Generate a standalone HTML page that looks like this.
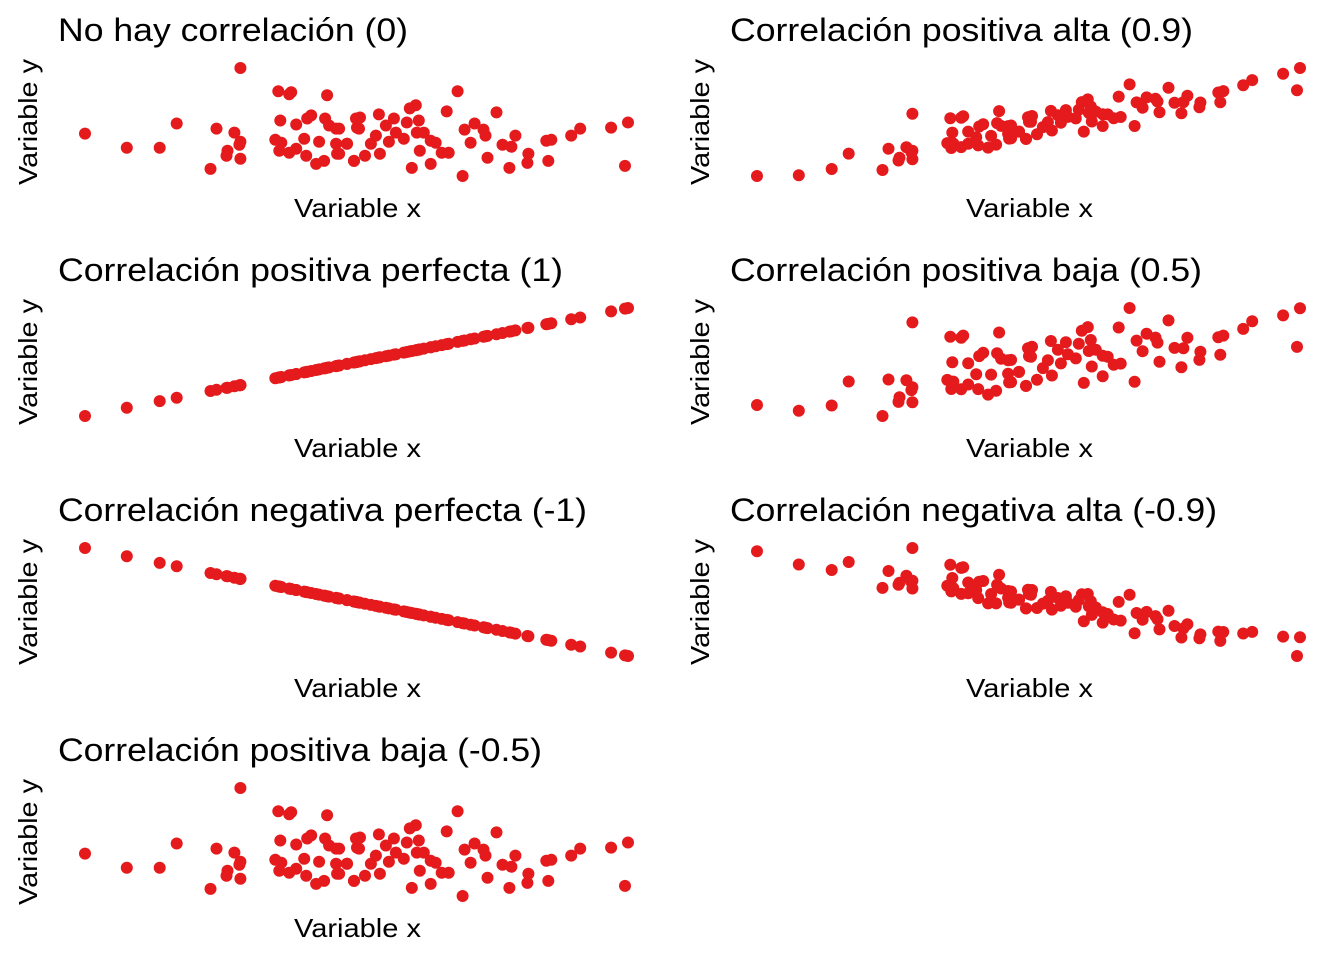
<!DOCTYPE html>
<html><head><meta charset="utf-8">
<style>
html,body{margin:0;padding:0;background:#fff;}
svg{display:block;font-family:"Liberation Sans",Arial,sans-serif;}
</style></head>
<body>
<svg id="chart" width="1344" height="960" viewBox="0 0 1344 960" xmlns="http://www.w3.org/2000/svg"></svg>
<script>
// shared x values (read from pixel positions)
const xValues = [85,127,160,177,211,217,235,241,228,240,227,241,241,279,290,292,328,281,297,308,312,326,330,337,276,282,280,290,305,297,307,320,317,325,337,348,338,355,357,358,340,348,340,355,358,361,360,366,372,377,380,381,387,390,395,397,405,408,411,417,420,418,425,432,437,421,413,432,443,450,448,459,466,476,472,485,487,464,489,498,504,513,517,511,530,529,548,553,550,573,582,613,630,627];
// noise variable (the "no correlation" series, higher = up)
const zValues = [-133,-147,-147,-123,-168,-128,-132,-141,-150,-144,-155,-158,-68,-91,-94,-92,-95,-120,-124,-118,-115,-118,-125,-128,-139,-142,-150,-152,-138,-148,-155,-141,-163,-160,-143,-143,-153,-160,-118,-127,-128,-143,-153,-160,-118,-117,-128,-155,-143,-135,-114,-153,-125,-141,-118,-132,-138,-122,-108,-105,-120,-132,-132,-140,-142,-150,-167,-163,-152,-152,-111,-91,-129,-123,-142,-129,-135,-175,-157,-112,-144,-146,-135,-167,-153,-162,-140,-139,-160,-135,-128,-127,-122,-165];
const panelTitles = ["No hay correlación (0)","Correlación positiva alta (0.9)","Correlación positiva perfecta (1)","Correlación positiva baja (0.5)","Correlación negativa perfecta (-1)","Correlación negativa alta (-0.9)","Correlación positiva baja (-0.5)"];
const panelR = [0,0.9,1,0.5,-1,-0.9,0];
const panelNoise = [1,0.436,0,0.5,0,0.436,1];
const titleWidths = [350,463,505,472,529,487,484];

const NS="http://www.w3.org/2000/svg";
const svg=document.getElementById('chart');
function std(a){const m=a.reduce((s,v)=>s+v,0)/a.length;const sd=Math.sqrt(a.reduce((s,v)=>s+(v-m)*(v-m),0)/a.length)||1;return a.map(v=>(v-m)/sd);}
const sx=std(xValues), sz=std(zValues);
function mk(tag,attrs){const e=document.createElementNS(NS,tag);for(const k in attrs)e.setAttribute(k,attrs[k]);return e;}
panelTitles.forEach((title,i)=>{
  const col=i%2,row=Math.floor(i/2);
  const ox=col*672, oy=row*240;
  const g=mk('g',{});
  
  
  svg.appendChild(g);
  const t=mk('text',{x:ox+58,y:oy+41,'font-size':32,fill:'#000',textLength:titleWidths[i],lengthAdjust:'spacingAndGlyphs'});
  t.textContent=title;
  
  
  g.appendChild(t);
  const xl=mk('text',{x:ox+294,y:oy+217,'font-size':26,fill:'#000',textLength:127,lengthAdjust:'spacingAndGlyphs'});
  xl.textContent='Variable x';
  
  
  g.appendChild(xl);
  const yl=mk('text',{x:-63,y:0,'font-size':26,fill:'#000',textLength:126,lengthAdjust:'spacingAndGlyphs',transform:'translate('+(ox+37)+','+(oy+122)+') rotate(-90)'});
  yl.textContent='Variable y';
  
  
  g.appendChild(yl);
  const r=panelR[i], q=panelNoise[i];
  const ys=sx.map((v,k)=>r*v+q*sz[k]);
  const xmin=Math.min(...xValues),xmax=Math.max(...xValues);
  const ymin=Math.min(...ys),ymax=Math.max(...ys);
  const X=v=>ox+85+(v-xmin)/(xmax-xmin)*543;
  const Y=v=>oy+176-(v-ymin)/((ymax-ymin)||1)*108;
  xValues.forEach((xv,k)=>{
    const c=mk('circle',{cx:X(xv).toFixed(1),cy:Y(ys[k]).toFixed(1),r:6,fill:'#E41A1C'});
    
    
    g.appendChild(c);
  });
});
</script>
</body></html>
